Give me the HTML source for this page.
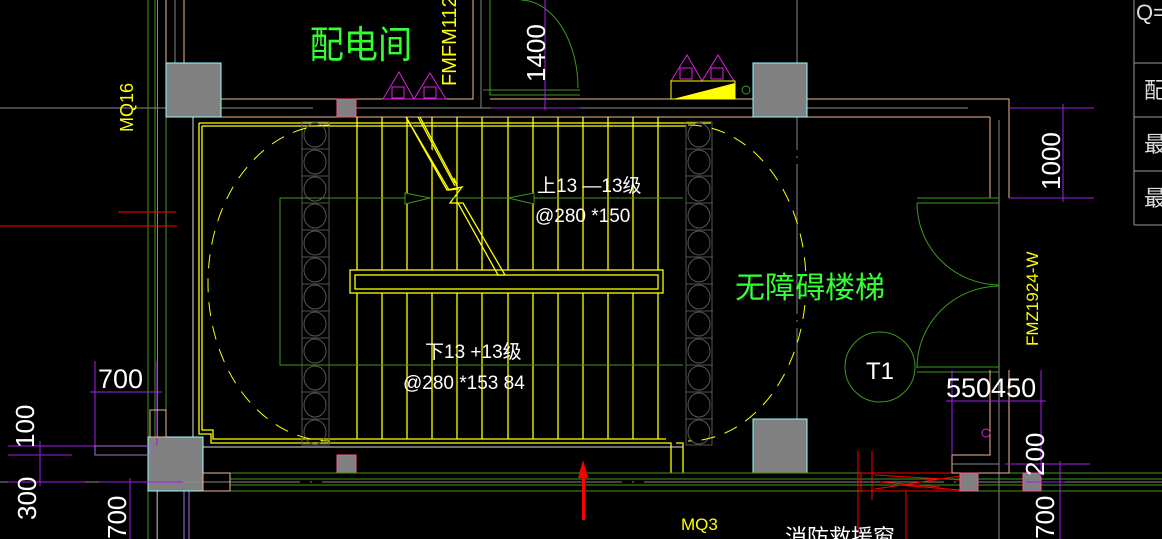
<!DOCTYPE html>
<html><head><meta charset="utf-8"><style>
html,body{margin:0;padding:0;background:#000;width:1162px;height:539px;overflow:hidden}
svg{display:block}
text{font-family:"Liberation Sans","Noto Sans CJK SC",sans-serif}
</style></head><body>
<svg width="1162" height="539" viewBox="0 0 1162 539" xmlns="http://www.w3.org/2000/svg" fill="none">
<rect width="1162" height="539" fill="#000"/>
<!-- left vertical lines -->
<g stroke-width="1">
<line x1="148" y1="0" x2="148" y2="539" stroke="#3c9a1c"/>
<line x1="155" y1="0" x2="155" y2="437" stroke="#3c9a1c"/>
<line x1="157.5" y1="0" x2="157.5" y2="539" stroke="#888"/>
<line x1="166" y1="117" x2="166" y2="437" stroke="#3c9a1c"/>
<line x1="166" y1="0" x2="166" y2="63" stroke="#f0b890"/>
<line x1="184" y1="0" x2="184" y2="63" stroke="#f0b890"/>
<line x1="175" y1="0" x2="175" y2="63" stroke="#888"/>
<line x1="193" y1="117" x2="193" y2="447" stroke="#ddd"/>
<line x1="184" y1="491" x2="184" y2="539" stroke="#a070d0"/>
<line x1="189" y1="491" x2="189" y2="539" stroke="#a070d0"/>
<line x1="157" y1="491" x2="157" y2="539" stroke="#888"/>
</g>
<!-- top wall -->
<line x1="0" y1="108" x2="313" y2="108" stroke="#888"/>
<line x1="356" y1="108" x2="752" y2="108" stroke="#888"/>
<line x1="807" y1="108" x2="968" y2="108" stroke="#888"/>
<polyline points="221,99 473,99 473,0" stroke="#f0b890"/>
<line x1="481" y1="0" x2="481" y2="108" stroke="#888"/>
<polyline points="490,0 490,95 580,95" stroke="#3c9a1c"/>
<polyline points="483,90 580,90" stroke="#3c9a1c"/>
<polyline points="490,99 807,99" stroke="#f0b890"/>
<path d="M521,0 A58,88 0 0 1 578,88" stroke="#3c9a1c"/>
<line x1="545" y1="0" x2="545" y2="110" stroke="#a020f0"/>
<line x1="491" y1="108" x2="580" y2="108" stroke="#a020f0"/>
<line x1="221" y1="117" x2="990" y2="117" stroke="#f0b890"/>
<polyline points="807,99 1009,99 1009,198" stroke="#f0b890"/>
<polyline points="990,117 990,198" stroke="#f0b890"/>
<line x1="999" y1="120" x2="999" y2="539" stroke="#888"/>
<line x1="797" y1="0" x2="797" y2="470" stroke="#888" stroke-dasharray="150,6,2,6"/>
<!-- columns -->
<rect x="166" y="63" width="55" height="54" fill="#808080" stroke="#9ff" />
<rect x="753" y="63" width="54" height="54" fill="#808080" stroke="#9ff"/>
<rect x="753" y="419" width="54" height="54" fill="#808080" stroke="#9ff"/>
<rect x="148" y="437" width="55" height="54" fill="#808080" stroke="#9ff"/>
<rect x="337" y="99" width="19" height="18" fill="#808080" stroke="#f59"/>
<rect x="337" y="455" width="19" height="18" fill="#808080" stroke="#f59"/>
<!-- magenta triangles -->
<g stroke="#e020e0">
<path d="M383,99 L399,72 L414,99 Z M414,99 L430,73 L446,99 Z"/>
<rect x="392" y="87" width="12" height="11"/><rect x="424" y="87" width="12" height="11"/>
<path d="M671,81 L687,55 L702,81 Z M702,81 L718,55 L734,81 Z"/>
<rect x="680" y="68" width="12" height="11"/><rect x="711" y="68" width="12" height="11"/>
</g>
<rect x="671" y="81" width="64" height="18" stroke="#ff0"/>
<path d="M673,99 L735,83 L735,99 Z" fill="#ff0"/>
<circle cx="746" cy="90" r="4" stroke="#3c9a1c"/>
<!-- stair yellow frame -->
<g stroke="#ff0" stroke-width="1.3">
<polyline points="199,123 199,434 211,434 211,443 671,443 671,473"/>
<polyline points="202,126 202,430 213,430 213,439 666,439"/>
<line x1="199" y1="123" x2="711" y2="123"/>
<line x1="202" y1="126" x2="686" y2="126"/>
<polyline points="676,443 683,443 683,473"/>
<g>
<line x1="357" y1="117" x2="357" y2="439"/><line x1="382" y1="117" x2="382" y2="439"/>
<line x1="407" y1="117" x2="407" y2="439"/><line x1="432" y1="117" x2="432" y2="439"/>
<line x1="457" y1="117" x2="457" y2="439"/><line x1="482" y1="117" x2="482" y2="439"/>
<line x1="508" y1="117" x2="508" y2="439"/><line x1="533" y1="117" x2="533" y2="439"/>
<line x1="558" y1="117" x2="558" y2="439"/><line x1="583" y1="117" x2="583" y2="439"/>
<line x1="608" y1="117" x2="608" y2="439"/><line x1="633" y1="117" x2="633" y2="439"/>
<line x1="658" y1="117" x2="658" y2="439"/>
</g>
<rect x="350" y="270" width="313" height="23" fill="#000"/>
<rect x="355" y="275" width="303" height="14" fill="#000"/>
<path d="M406,117 L449,190 L458,189 L454,178" fill="#000"/>
<path d="M418,117 L455,186" />
<path d="M406,117 L447,190 L462,187 L450,203 L458,203 L498,275 L505,275 L463,203 L455,203" fill="none"/>
<path d="M420,117 L455,183" />
</g>
<!-- circle columns -->
<g stroke="#555">
<rect x="302" y="122" width="27" height="323"/>
<rect x="686" y="122" width="26" height="323"/>
</g>
<g stroke="#555" id="cc">
<ellipse cx="315" cy="135" rx="11" ry="12"/><ellipse cx="315" cy="162" rx="11" ry="12"/><ellipse cx="315" cy="189" rx="11" ry="12"/><ellipse cx="315" cy="216" rx="11" ry="12"/><ellipse cx="315" cy="243" rx="11" ry="12"/><ellipse cx="315" cy="270" rx="11" ry="12"/><ellipse cx="315" cy="297" rx="11" ry="12"/><ellipse cx="315" cy="324" rx="11" ry="12"/><ellipse cx="315" cy="351" rx="11" ry="12"/><ellipse cx="315" cy="378" rx="11" ry="12"/><ellipse cx="315" cy="405" rx="11" ry="12"/><ellipse cx="315" cy="432" rx="11" ry="12"/>
<line x1="302" y1="149" x2="329" y2="149"/><line x1="302" y1="176" x2="329" y2="176"/><line x1="302" y1="203" x2="329" y2="203"/><line x1="302" y1="230" x2="329" y2="230"/><line x1="302" y1="257" x2="329" y2="257"/><line x1="302" y1="284" x2="329" y2="284"/><line x1="302" y1="311" x2="329" y2="311"/><line x1="302" y1="338" x2="329" y2="338"/><line x1="302" y1="365" x2="329" y2="365"/><line x1="302" y1="392" x2="329" y2="392"/><line x1="302" y1="419" x2="329" y2="419"/>
</g>
<use href="#cc" x="384"/>
<!-- dashed stadium -->
<path d="M330,125 A122,158 0 0 0 330,441" stroke="#ff0" stroke-dasharray="14,10"/>
<path d="M688,125 A118,158 0 0 1 688,441" stroke="#ff0" stroke-dasharray="14,10"/>
<!-- green walking line -->
<polyline points="683,198 280,198 280,365 683,365" stroke="#3c9a1c"/>
<path d="M405,193 L405,204 L430,198 Z" stroke="#3c9a1c" fill="#000"/>
<path d="M534,193 L534,204 L508,198 Z" stroke="#3c9a1c" fill="#000"/>
<!-- bottom wall -->
<line x1="203" y1="447" x2="683" y2="447" stroke="#ddd"/>
<g stroke="#3c9a1c">
<line x1="230" y1="473" x2="1162" y2="473"/><line x1="230" y1="479" x2="1162" y2="479"/>
<line x1="230" y1="485" x2="1162" y2="485"/><line x1="230" y1="491" x2="1162" y2="491"/>
</g>
<line x1="0" y1="482" x2="1162" y2="482" stroke="#888" stroke-dasharray="300,10,2,10"/>
<rect x="203" y="473" width="27" height="18" stroke="#f0b890"/>
<!-- red -->
<line x1="118" y1="212" x2="176" y2="212" stroke="#f00"/>
<line x1="0" y1="226" x2="177" y2="226" stroke="#f00"/>
<g stroke="#f00">
<line x1="858" y1="451" x2="858" y2="533"/><line x1="872" y1="451" x2="872" y2="500"/>
<rect x="861" y="473" width="100" height="18"/>
<path d="M875,475 L960,480 M875,489 L960,476 M900,485 L960,490 M880,482 L940,487"/>
<line x1="906" y1="491" x2="906" y2="539"/>
</g>
<path d="M583,460 L578,478 L582,478 L582,520 L585,520 L585,478 L588,478 Z" fill="#f00"/>
<!-- right door area -->
<g stroke="#3c9a1c">
<line x1="917" y1="198" x2="999" y2="198"/><line x1="917" y1="203" x2="999" y2="203"/>
<path d="M917,203 A83,82 0 0 0 999,285"/>
<path d="M999,286 A83,82 0 0 0 917,368"/>
<line x1="917" y1="367" x2="999" y2="367"/><line x1="917" y1="372" x2="999" y2="372"/>
<circle cx="880" cy="367" r="35"/>
</g>
<!-- right bottom structure -->
<polyline points="990,370 990,455 952,455 952,473 1009,473 1009,370" stroke="#f0b890"/>
<rect x="960" y="473" width="18" height="18" fill="#808080" stroke="#f59"/>
<rect x="1023" y="473" width="18" height="18" fill="#808080" stroke="#f59"/>
<line x1="952" y1="464" x2="999" y2="464" stroke="#888"/>
<circle cx="986" cy="433" r="4" stroke="#e020e0"/>
<g stroke="#a020f0">
<line x1="1009" y1="108" x2="1094" y2="108"/><line x1="1009" y1="198" x2="1094" y2="198"/>
<line x1="1063" y1="104" x2="1063" y2="202"/>
<line x1="946" y1="401" x2="1046" y2="401"/>
<line x1="952" y1="370" x2="952" y2="455"/><line x1="1041" y1="370" x2="1041" y2="477"/>
<line x1="1005" y1="464" x2="1090" y2="464"/><line x1="1060" y1="461" x2="1060" y2="539"/>
<line x1="1026" y1="482" x2="1065" y2="482"/>
<line x1="95" y1="361" x2="95" y2="449"/><line x1="90" y1="392" x2="162" y2="392"/>
<line x1="157" y1="361" x2="157" y2="446"/>
<line x1="8" y1="446" x2="150" y2="446"/><line x1="8" y1="455" x2="72" y2="455"/>
<line x1="40" y1="441" x2="40" y2="486"/>
<line x1="8" y1="482" x2="85" y2="482"/><line x1="99" y1="482" x2="183" y2="482"/>
<line x1="130" y1="478" x2="130" y2="539"/>
</g>
<rect x="95" y="446" width="55" height="9" stroke="#a070d0"/>
<rect x="150" y="410" width="16" height="27" stroke="#f0b890"/>
<!-- table -->
<g stroke="#999">
<line x1="1134" y1="0" x2="1134" y2="225"/>
<line x1="1134" y1="63" x2="1162" y2="63"/><line x1="1134" y1="117" x2="1162" y2="117"/>
<line x1="1134" y1="171" x2="1162" y2="171"/><line x1="1134" y1="225" x2="1162" y2="225"/>
</g>
<g fill="#ddd" font-size="22">
<text x="1136" y="20">Q=</text>
<text x="1144" y="98">配</text><text x="1144" y="152">最</text><text x="1144" y="206">最</text>
</g>
<!-- text -->
<text x="310" y="58" fill="#3f3" font-size="38" font-family="'Noto Sans CJK SC',sans-serif" transform="scale(0.9,1) translate(34,0)">配电间</text>
<text x="0" y="0" fill="#ff0" font-size="20" transform="translate(456,86) rotate(-90)">FMFM1122</text>
<text x="0" y="0" fill="#fff" font-size="26" transform="translate(545,82) rotate(-90)">1400</text>
<text x="0" y="0" fill="#ff0" font-size="18" transform="translate(133,132) rotate(-90)">MQ16</text>
<text x="0" y="0" fill="#fff" font-size="26" transform="translate(1060,190) rotate(-90)">1000</text>
<text x="0" y="0" fill="#ff0" font-size="17" transform="translate(1038,346) rotate(-90)">FMZ1924-W</text>
<g fill="#fff" font-size="19">
<text x="537" y="192">上13 —13级</text>
<text x="535" y="222">@280 *150</text>
<text x="425" y="358">下13 +13级</text>
<text x="403" y="389">@280 *153 84</text>
</g>
<text x="735" y="298" fill="#3f3" font-size="30" font-family="'Noto Sans CJK SC',sans-serif">无障碍楼梯</text>
<text x="866" y="379" fill="#fff" font-size="24">T1</text>
<text x="946" y="397" fill="#fff" font-size="27">550450</text>
<text x="98" y="388" fill="#fff" font-size="27">700</text>
<text x="0" y="0" fill="#fff" font-size="26" transform="translate(34,448) rotate(-90)">100</text>
<text x="0" y="0" fill="#fff" font-size="26" transform="translate(36,520) rotate(-90)">300</text>
<text x="0" y="0" fill="#fff" font-size="26" transform="translate(126,539) rotate(-90)">700</text>
<text x="0" y="0" fill="#fff" font-size="26" transform="translate(1044,476) rotate(-90)">200</text>
<text x="0" y="0" fill="#fff" font-size="26" transform="translate(1054,539) rotate(-90)">700</text>
<text x="681" y="530" fill="#ff0" font-size="17">MQ3</text>
<text x="785" y="545" fill="#fff" font-size="22" font-family="'Noto Sans CJK SC',sans-serif">消防救援窗</text>
</svg>
</body></html>
